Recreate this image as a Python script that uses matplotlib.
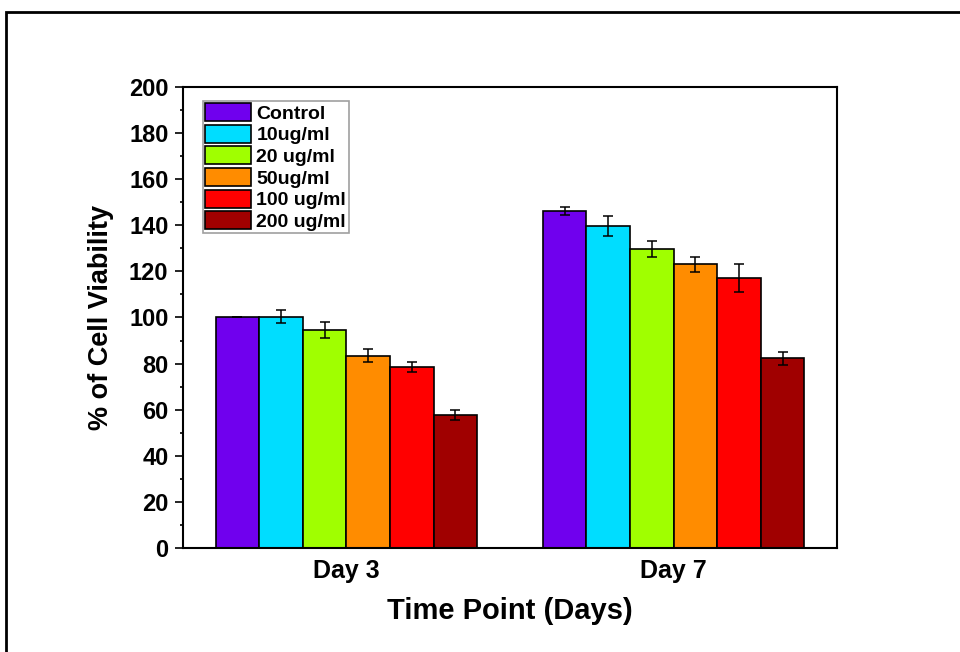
import matplotlib

matplotlib.use("Agg")
import matplotlib.pyplot as plt
import numpy as np
from matplotlib.patches import Rectangle
from matplotlib.ticker import MultipleLocator

# values
groups = ["Day 3", "Day 7"]
labels = ["Control", "10ug/ml", "20 ug/ml", "50ug/ml", "100 ug/ml", "200 ug/ml"]
colors = ["#7000EE", "#00DDFF", "#A0FF00", "#FF8C00", "#FF0000", "#A00000"]

day3 = [100.0, 100.3, 94.6, 83.4, 78.4, 57.6]
day3_err = [0.0, 2.9, 3.3, 2.8, 2.2, 2.1]
day7 = [146.2, 139.8, 129.7, 123.1, 117.1, 82.3]
day7_err = [1.9, 4.4, 3.5, 3.2, 5.9, 2.9]

plt.rcParams["font.family"] = ["Liberation Sans", "DejaVu Sans"]
plt.rcParams["font.weight"] = "bold"

fig = plt.figure(figsize=(9.6, 6.52), dpi=100)
ax = fig.add_axes([0.1906, 0.1595, 0.6813, 0.7071])

# outer frame (clipped on the right and bottom like the source image)
fig.patches.append(
    Rectangle(
        (6 / 960, -0.2),
        1.2,
        1.2 - 11.5 / 652,
        transform=fig.transFigure,
        fill=False,
        edgecolor="black",
        linewidth=2,
    )
)

centers = np.arange(1, len(groups) + 1)
width = 0.8 / len(labels)

for i, label in enumerate(labels):
    xs = centers + (i - (len(labels) - 1) / 2) * width
    ax.bar(
        xs,
        [day3[i], day7[i]],
        width=width,
        color=colors[i],
        edgecolor="black",
        linewidth=1.2,
        label=label,
        yerr=[day3_err[i], day7_err[i]],
        capsize=3.6,
        error_kw={"elinewidth": 1.1, "capthick": 1.1, "ecolor": "black"},
    )

ax.set_xlim(0.5, 2.5)
ax.set_ylim(0, 200)
ax.set_xticks(centers)
ax.set_xticklabels(groups, fontsize=18, fontweight="bold")
ax.yaxis.set_major_locator(MultipleLocator(20))
ax.yaxis.set_minor_locator(MultipleLocator(10))
ax.tick_params(axis="y", which="major", direction="out", length=5.5, width=1.2,
               labelsize=17, pad=5)
ax.tick_params(axis="y", which="minor", direction="out", length=2.5, width=1.2)
ax.tick_params(axis="x", length=0, pad=8)
for lbl in ax.get_yticklabels():
    lbl.set_fontweight("bold")

for spine in ax.spines.values():
    spine.set_linewidth(1.5)

ax.set_xlabel("Time Point (Days)", fontsize=21, fontweight="bold", labelpad=10)
ax.set_ylabel("% of Cell Viability", fontsize=19.5, fontweight="bold", labelpad=11)

leg = ax.legend(
    loc="upper left",
    bbox_to_anchor=(0.03, 0.97),
    borderaxespad=0,
    prop={"weight": "bold", "size": 14},
    fancybox=False,
    frameon=True,
    edgecolor="#888888",
    handlelength=2.35,
    handleheight=1.05,
    handletextpad=0.3,
    labelspacing=0.1,
    borderpad=0.12,
)
leg.get_frame().set_linewidth(1.2)

fig.savefig("out.png", dpi=100)
